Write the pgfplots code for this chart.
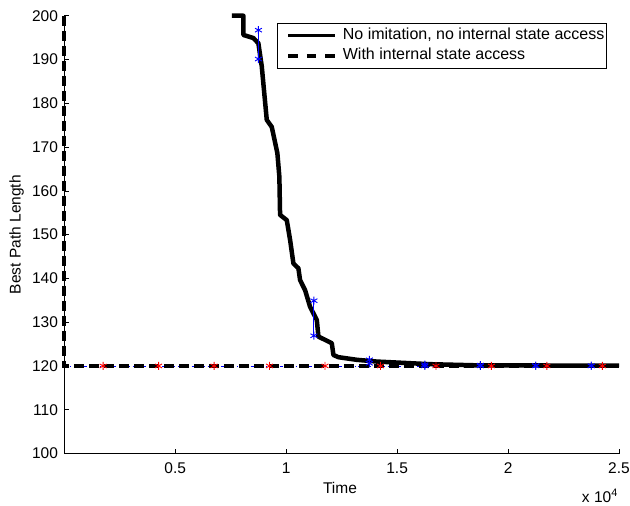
\documentclass[border=0pt]{standalone}
\usepackage{fontspec}
\setmainfont{Liberation Sans}
\usepackage{pgfplots}
\pgfplotsset{compat=1.18}
\begin{document}
\fontsize{15.5bp}{18bp}\selectfont
\begin{tikzpicture}
\begin{axis}[
  scale only axis,
  width=554.7bp, height=437.8bp,
  xmin=0, xmax=25000, ymin=100, ymax=200,
  axis x line*=bottom, axis y line*=left,
  axis line style={-, line width=0.6bp},
  tick align=inside, major tick length=5bp,
  tick style={line width=0.6bp, black},
  xtick={5000,10000,15000,20000,25000},
  xticklabels={0.5,1,1.5,2,2.5},
  scaled x ticks=false,
  ytick={100,110,...,200},
  /pgf/number format/assume math mode=true,
  ticklabel style={font=\fontsize{15.5bp}{18bp}\selectfont},
  xticklabel style={yshift=-3.5bp},
  yticklabel style={xshift=-1bp},
  xlabel={Time}, ylabel={Best Path Length},
  xlabel style={at={(axis description cs:0.497,-0.0788)},anchor=center},
  ylabel style={at={(axis description cs:-0.0858,0.5)},anchor=center},
  label style={font=\fontsize{15.5bp}{18bp}\selectfont},
  clip=false,
  legend style={at={(1,1)}, anchor=north east, xshift=-12.3bp, yshift=-7.3bp,
    draw=black, line width=0.7bp, font=\fontsize{16bp}{18bp}\selectfont,
    inner xsep=2bp, inner ysep=5bp, row sep=5bp, column sep=5.7bp,
    nodes={inner sep=0pt, text height=11bp, text depth=4bp},
    cells={anchor=west}},
  legend cell align=left,
]
% blue dash-dot baseline
\addplot[blue, line width=0.5bp, dash pattern=on 3bp off 3bp on 0.8bp off 3bp, forget plot]
  coordinates {(0,120) (25000,120)};
\addplot[black, line width=4.5bp, line join=round,
  legend image code/.code={\draw[black, line width=3.2bp] (9bp,0bp) -- (56bp,0bp); \draw[draw=none] (0bp,0bp) -- (1bp,0bp);}]
  coordinates {
(7547,200) (8070,200) (8070,195.6) (8521,194.9) (8747,193.7) (8900,188.4)
(9125,176.2) (9350,174.6) (9603,168.6) (9693,163.2) (9725,154.5)
(10027,153.3) (10176,148.8) (10326,143.4) (10551,142.3) (10627,139.6)
(10852,137.3) (11078,133.5) (11380,130.5) (11453,126.7) (12055,125.2)
(12130,122.5) (12355,122.0) (13183,121.4) (14085,121.0) (16488,120.4)
(18500,120.15) (25000,120.05)
};
\addlegendentry{No imitation, no internal state access}
\addplot[black, line width=4bp, dash pattern=on 10bp off 5bp,
  legend image code/.code={\draw[black, line width=3.4bp, dash pattern=on 9.5bp off 9bp] (9bp,0bp) -- (56bp,0bp); \draw[draw=none] (0bp,0bp) -- (1bp,0bp);}]
  coordinates {
(0,200) (0,120) (25000,120)
};
\addlegendentry{With internal state access}
% blue error bars / markers
\pgfplotsset{bluebar/.style={blue, line width=0.9bp, mark=asterisk, mark size=4bp, forget plot}}
\addplot[bluebar] coordinates {(8750,190.1) (8750,196.7)};
\addplot[bluebar] coordinates {(11250,126.9) (11250,134.9)};
\addplot[bluebar] coordinates {(13750,120.6) (13750,121.4)};
\addplot[bluebar] coordinates {(16250,120.0) (16250,120.3)};
\addplot[bluebar] coordinates {(18750,120.0) (18750,120.2)};
\addplot[bluebar] coordinates {(21250,120.0) (21250,120.1)};
\addplot[bluebar] coordinates {(23750,120.0) (23750,120.05)};
% red markers
\addplot[red, only marks, mark=asterisk, mark size=4bp, line width=0.9bp, forget plot] coordinates {
(1750,120) (4250,120) (6750,120) (9250,120) (11750,120) (14250,120)
(16750,120) (19250,120) (21750,120) (24250,120)
};
\node[anchor=base east, inner sep=0pt, font=\fontsize{15.5bp}{18bp}\selectfont] at (rel axis cs:1,0) [yshift=-48.5bp, xshift=-1bp] {x 10\textsuperscript{4}};
\end{axis}
\pgfresetboundingbox
\path (-64.3bp,-52.5bp) rectangle (565.7bp,453.5bp);
\end{tikzpicture}
\end{document}
